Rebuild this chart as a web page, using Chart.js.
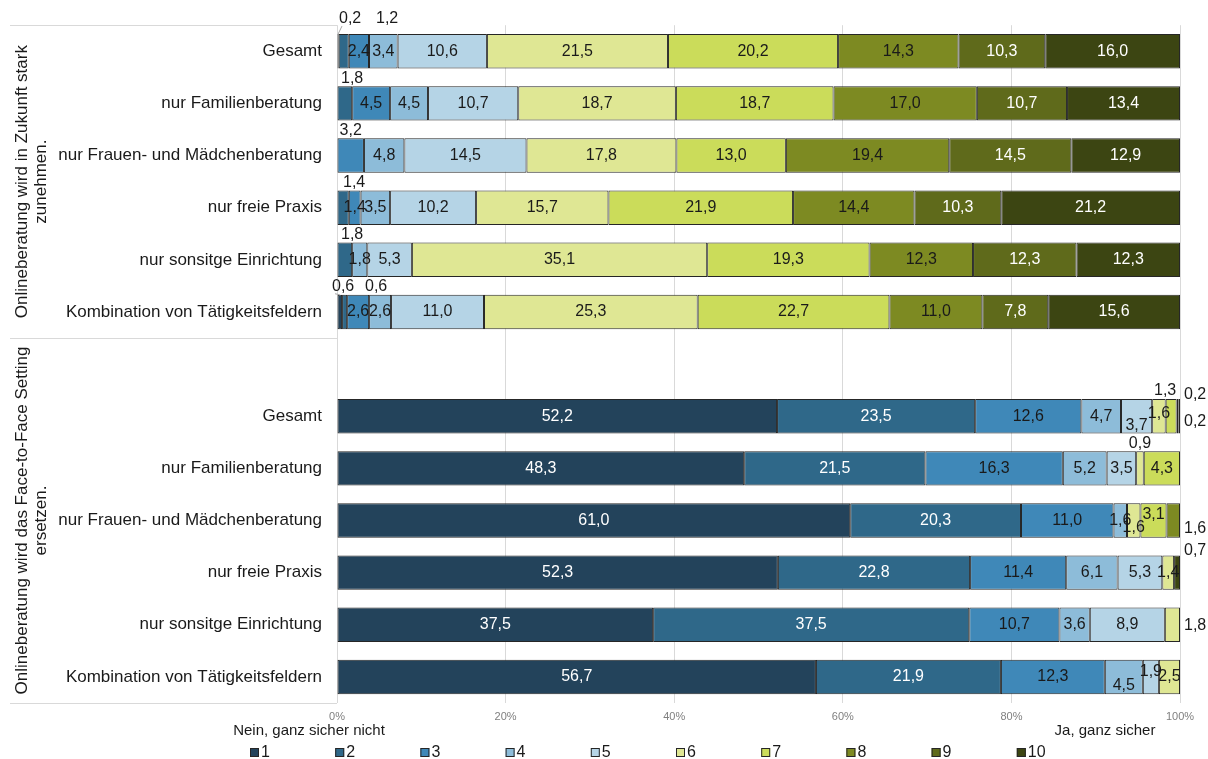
<!DOCTYPE html>
<html lang="de">
<head>
<meta charset="utf-8">
<title>Onlineberatung</title>
<script src="https://cdn.jsdelivr.net/npm/chart.js@4.4.0/dist/chart.umd.min.js"></script>
<style>
  html, body { margin: 0; padding: 0; background: #fff; }
  #wrap { position: relative; width: 1208px; height: 759px; }
</style>
</head>
<body>
<div id="wrap"><canvas id="grafico"></canvas></div>
<script>
var kategorien = ['Gesamt', 'nur Familienberatung', 'nur Frauen- und Mädchenberatung', 'nur freie Praxis', 'nur sonsitge Einrichtung', 'Kombination von Tätigkeitsfeldern'];
var gruppen = [
  ['Onlineberatung wird in Zukunft stark', 'zunehmen.'],
  ['Onlineberatung wird das Face-to-Face Setting', 'ersetzen.']
];
var stufen = ['1', '2', '3', '4', '5', '6', '7', '8', '9', '10'];
var skalaEnden = ['Nein, ganz sicher nicht', 'Ja, ganz sicher'];

// Anteile in % je Zeile, Stufe 1 bis 10
var zunehmen = [
  [0.2, 1.2, 2.4, 3.4, 10.6, 21.5, 20.2, 14.3, 10.3, 16.0],
  [0, 1.8, 4.5, 4.5, 10.7, 18.7, 18.7, 17.0, 10.7, 13.4],
  [0, 0, 3.2, 4.8, 14.5, 17.8, 13.0, 19.4, 14.5, 12.9],
  [0, 1.4, 1.4, 3.5, 10.2, 15.7, 21.9, 14.4, 10.3, 21.2],
  [0, 1.8, 0, 1.8, 5.3, 35.1, 19.3, 12.3, 12.3, 12.3],
  [0.6, 0.6, 2.6, 2.6, 11.0, 25.3, 22.7, 11.0, 7.8, 15.6]
];
var ersetzen = [
  [52.2, 23.5, 12.6, 4.7, 3.7, 1.6, 1.3, 0, 0.2, 0.2],
  [48.3, 21.5, 16.3, 5.2, 3.5, 0.9, 4.3, 0, 0, 0],
  [61.0, 20.3, 11.0, 1.6, 0, 1.6, 3.1, 1.6, 0, 0],
  [52.3, 22.8, 11.4, 6.1, 5.3, 1.4, 0, 0, 0, 0.7],
  [37.5, 37.5, 10.7, 3.6, 8.9, 1.8, 0, 0, 0, 0],
  [56.7, 21.9, 12.3, 4.5, 1.9, 2.5, 0, 0, 0, 0]
];

var farben = ['#23435b', '#2f6889', '#3f88b8', '#8dbcd9', '#b5d4e6', '#dfe794', '#cbdc5a', '#7d8a22', '#5f6a1b', '#3c4512'];
var textFarben = ['#fff', '#fff', '#1a1a1a', '#1a1a1a', '#1a1a1a', '#1a1a1a', '#1a1a1a', '#1a1a1a', '#fff', '#fff'];

// Sonderlagen fuer kleine Werte: "zeile-stufe"
var labelLage = {
  '0-0': {pos: 'oben', dx: 2, dy: -7, linie: true},
  '0-1': {pos: 'oben', dx: 39, dy: -7},
  '1-1': {pos: 'oben', dx: 4},
  '2-2': {pos: 'oben', dx: 0},
  '3-1': {pos: 'oben', dx: 6},
  '4-1': {pos: 'oben', dx: 4},
  '5-0': {pos: 'oben', dx: -5, linie: true},
  '5-1': {pos: 'oben', dx: 28},
  '7-6': {pos: 'oben', dx: -6},
  '7-4': {pos: 'mitte', dy: 9},
  '7-5': {pos: 'mitte', dy: -3},
  '7-8': {pos: 'rechts', dy: -22},
  '7-9': {pos: 'rechts', dy: 5},
  '8-5': {pos: 'oben', dx: 0},
  '9-5': {pos: 'mitte', dy: 7},
  '9-6': {pos: 'mitte', dy: -6},
  '9-7': {pos: 'rechts', dy: 8},
  '10-9': {pos: 'rechts', dy: -22},
  '11-5': {pos: 'rechts', dy: 1},
  '12-3': {pos: 'mitte', dy: 9},
  '12-4': {pos: 'mitte', dy: -5}
};

var zeilen = kategorien.concat([''], kategorien);
var alleZeilen = zunehmen.concat([null], ersetzen);

// 100%-Stapel: jede Zeile auf ihre Summe bezogen, Beschriftung bleibt der gelesene Wert
function zeilenWerte(k) {
  return alleZeilen.map(function (r) {
    if (!r || !r[k]) return null;
    var summe = r.reduce(function (a, b) { return a + b; }, 0);
    return r[k] / summe * 100;
  });
}

var datasets = stufen.map(function (s, k) {
  return {
    label: s,
    data: zeilenWerte(k),
    backgroundColor: farben[k],
    borderColor: '#262626',
    borderWidth: 1,
    borderSkipped: false,
    barPercentage: 0.66,
    categoryPercentage: 1
  };
});

var schrift = '"Liberation Sans", Arial, sans-serif';

var wertLabels = {
  id: 'wertLabels',
  afterDatasetsDraw: function (chart) {
    var ctx = chart.ctx;
    var area = chart.chartArea;
    ctx.save();
    ctx.font = '16px ' + schrift;
    ctx.textBaseline = 'middle';
    chart.data.datasets.forEach(function (ds, k) {
      var meta = chart.getDatasetMeta(k);
      meta.data.forEach(function (bar, i) {
        var r = alleZeilen[i];
        if (!r || !r[k]) return;
        var txt = r[k].toFixed(1).replace('.', ',');
        var lage = labelLage[i + '-' + k] || {pos: 'mitte'};
        var cx = (bar.x + bar.base) / 2;
        var top = bar.y - bar.height / 2;
        var w = ctx.measureText(txt).width;
        var x, y;
        ctx.textAlign = 'center';
        if (lage.pos === 'oben') {
          x = Math.max(cx, area.left + w / 2) + (lage.dx || 0);
          y = top - 8 + (lage.dy || 0);
          ctx.fillStyle = '#1a1a1a';
          if (lage.linie) {
            ctx.strokeStyle = '#a6a6a6';
            ctx.lineWidth = 1;
            ctx.beginPath();
            ctx.moveTo(cx, top);
            ctx.lineTo(x - w / 2 + 3, y + 7);
            ctx.stroke();
          }
        } else if (lage.pos === 'rechts') {
          ctx.textAlign = 'left';
          x = area.right + 4;
          y = bar.y + (lage.dy || 0);
          ctx.fillStyle = '#1a1a1a';
        } else {
          x = cx;
          y = bar.y + (lage.dy || 0);
          ctx.fillStyle = textFarben[k];
        }
        ctx.fillText(txt, x, y);
      });
    });
    ctx.restore();
  }
};

var gruppenAchse = {
  id: 'gruppenAchse',
  afterDraw: function (chart) {
    var ctx = chart.ctx;
    var area = chart.chartArea;
    var y = chart.scales.y;
    var mitte = (y.getPixelForValue(5) + y.getPixelForValue(6)) / 2;
    var grenzen = [area.top, mitte, area.bottom];
    ctx.save();
    ctx.strokeStyle = '#d9d9d9';
    ctx.lineWidth = 1;
    grenzen.forEach(function (g) {
      ctx.beginPath();
      ctx.moveTo(10, Math.round(g) + 0.5);
      ctx.lineTo(area.left, Math.round(g) + 0.5);
      ctx.stroke();
    });
    ctx.fillStyle = '#1a1a1a';
    ctx.font = '17px ' + schrift;
    ctx.textAlign = 'center';
    ctx.textBaseline = 'middle';
    gruppen.forEach(function (zeilenText, g) {
      var cy = (grenzen[g] + grenzen[g + 1]) / 2;
      ctx.save();
      ctx.translate(22, cy);
      ctx.rotate(-Math.PI / 2);
      zeilenText.forEach(function (t, j) {
        ctx.fillText(t, 0, j * 19);
      });
      ctx.restore();
    });

    // Skalenenden unter der x-Achse
    ctx.font = '15px ' + schrift;
    ctx.fillText(skalaEnden[0], area.left - 28, 731);
    ctx.fillText(skalaEnden[1], area.right - 75, 731);

    // Legende
    ctx.font = '16px ' + schrift;
    ctx.textAlign = 'left';
    chart.data.datasets.forEach(function (ds, k) {
      var lx = 250 + k * 85.2;
      var ly = 752;
      ctx.fillStyle = ds.backgroundColor;
      ctx.fillRect(lx, ly - 4, 9, 9);
      ctx.strokeStyle = '#262626';
      ctx.strokeRect(lx + 0.5, ly - 3.5, 8, 8);
      ctx.fillStyle = '#1a1a1a';
      ctx.fillText(ds.label, lx + 11, ly + 1);
    });
    ctx.restore();
  }
};

var ctx = document.getElementById('grafico').getContext('2d');
var chart = new Chart(ctx, {
  type: 'bar',
  data: {
    labels: zeilen,
    datasets: datasets
  },
  options: {
    indexAxis: 'y',
    responsive: true,
    maintainAspectRatio: false,
    animation: false,
    layout: {
      padding: {top: 24, right: 28, bottom: 0, left: 0}
    },
    plugins: {
      legend: {display: false},
      tooltip: {enabled: false}
    },
    scales: {
      x: {
        stacked: true,
        min: 0,
        max: 100,
        grid: {color: '#d9d9d9', drawTicks: false},
        border: {display: false},
        ticks: {
          stepSize: 20,
          padding: 7,
          color: '#7f7f7f',
          font: {family: schrift, size: 11},
          callback: function (v) { return v + '%'; }
        },
        afterFit: function (s) { s.height = 56; }
      },
      y: {
        stacked: true,
        grid: {display: false, drawTicks: false},
        border: {display: false},
        ticks: {
          padding: 15,
          color: '#1a1a1a',
          font: {family: schrift, size: 17}
        },
        afterFit: function (s) { s.width = 337; }
      }
    }
  },
  plugins: [wertLabels, gruppenAchse]
});
</script>
</body>
</html>
